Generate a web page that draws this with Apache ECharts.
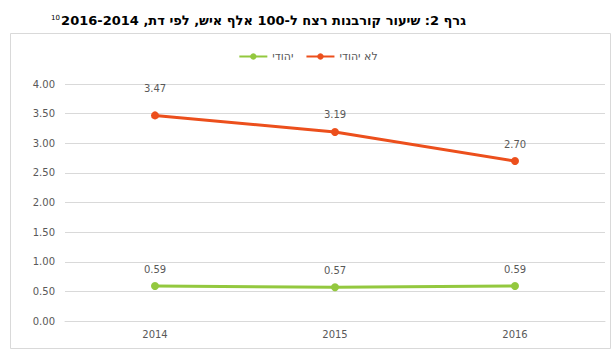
<!DOCTYPE html>
<html><head><meta charset="utf-8">
<script src="https://cdn.jsdelivr.net/npm/echarts@6/dist/echarts.min.js"></script>
<style>html,body{margin:0;padding:0;background:#fff}#c{width:616px;height:360px}</style>
</head><body><div id="c"></div>
<script>
var years = ['2014', '2015', '2016'];
var nonJewish = [3.47, 3.19, 2.70];
var jewish = [0.59, 0.57, 0.59];
var seriesNames = ['יהודי', 'לא יהודי'];
var titleText = 'גרף 2: שיעור קורבנות רצח ל-100 אלף איש, לפי דת, 2014\u200F-2016';
var footnote = '10';

var ORANGE = '#EC4F1C', GREEN = '#93C83E', TXT = '#595959';
var chart = echarts.init(document.getElementById('c'), null, { renderer: 'svg' });
function mk(vals, firstDist) {
  return vals.map(function (v, i) {
    var d = { value: v };
    if (i === 0 && firstDist) d.label = { distance: firstDist };
    return d;
  });
}
var lbl = { show: true, position: 'top', distance: 8, color: TXT, fontSize: 10, fontFamily: 'DejaVu Sans',
  formatter: function (p) { return p.value.toFixed(2); } };
chart.setOption({
  animation: false,
  backgroundColor: '#fff',
  graphic: [
    { type: 'rect', shape: { x: 10.5, y: 33.5, width: 600, height: 315 }, style: { fill: 'none', stroke: '#d9d9d9', lineWidth: 1 }, z: 0 },
    { type: 'text', right: 150, top: 14, style: { text: titleText, font: 'bold 13px "DejaVu Sans", Arial', fill: '#000', textAlign: 'right' } },
    { type: 'text', left: 51, top: 14, style: { text: footnote, font: '7px "DejaVu Sans"', fill: '#000' } }
  ],
  legend: {
    top: 46, left: 'center', itemWidth: 28, itemHeight: 8, itemGap: 12,
    textStyle: { color: TXT, fontSize: 11, fontFamily: 'DejaVu Sans' },
    data: seriesNames
  },
  grid: { left: 65, right: 11, top: 84, bottom: 39 },
  xAxis: {
    type: 'category', data: years, boundaryGap: true,
    axisLine: { lineStyle: { color: '#d9d9d9' } }, axisTick: { show: false },
    axisLabel: { color: TXT, fontSize: 10, fontFamily: 'DejaVu Sans', margin: 8 }
  },
  yAxis: {
    type: 'value', min: 0, max: 4, interval: 0.5,
    axisLabel: { color: TXT, fontSize: 10, fontFamily: 'DejaVu Sans', margin: 10, formatter: function (v) { return v.toFixed(2); } },
    splitLine: { lineStyle: { color: '#d9d9d9' } },
    axisLine: { show: false }, axisTick: { show: false }
  },
  series: [
    {
      name: seriesNames[0], type: 'line', data: mk(jewish),
      color: GREEN, lineStyle: { width: 3, color: GREEN }, symbol: 'circle', symbolSize: 8,
      itemStyle: { color: GREEN }, label: lbl
    },
    {
      name: seriesNames[1], type: 'line', data: mk(nonJewish, 18),
      color: ORANGE, lineStyle: { width: 3, color: ORANGE }, symbol: 'circle', symbolSize: 8,
      itemStyle: { color: ORANGE }, label: lbl
    }
  ]
});
</script></body></html>
